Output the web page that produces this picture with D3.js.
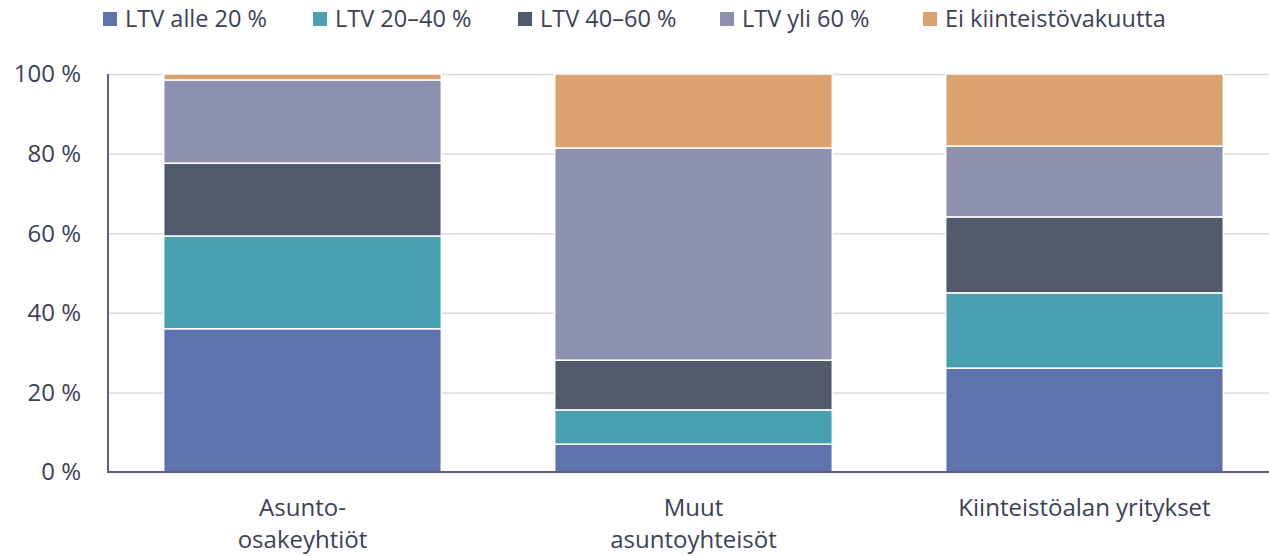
<!DOCTYPE html>
<html lang="fi">
<head>
    <meta charset="UTF-8">
    <title>LTV</title>
    <script src="https://d3js.org/d3.v7.min.js"></script>
    <style>
        body { margin: 0; background: #fff; }
        text { font-family: "Open Sans", sans-serif; fill: #3b4256; }
    </style>
</head>
<body>
<svg id="chart" width="1269" height="556"></svg>
<script>
    // kategoriat ja sarjat
    var categories = [["Asunto-", "osakeyhtiöt"], ["Muut", "asuntoyhteisöt"], ["Kiinteistöalan yritykset"]];
    var seriesNames = ["LTV alle 20 %", "LTV 20–40 %", "LTV 40–60 %", "LTV yli 60 %", "Ei kiinteistövakuutta"];
    var ltvUnder20 = [36.0, 7.0, 26.1];
    var ltv20to40 = [23.3, 8.6, 18.9];
    var ltv40to60 = [18.3, 12.5, 19.1];
    var ltvOver60 = [20.9, 53.3, 17.8];
    var noCollateral = [1.5, 18.6, 18.1];
    var yTicks = [0, 20, 40, 60, 80, 100];
    var colors = ["#5e72ae", "#48a0b0", "#505a6b", "#8e90b0", "#dca26d"];

    var svg = d3.select('#chart');
    var plotLeft = 108, plotRight = 1280, plotTop = 74, plotBottom = 472;

    var rows = categories.map(function (c, i) {
        return {
            key: i,
            s0: ltvUnder20[i], s1: ltv20to40[i], s2: ltv40to60[i], s3: ltvOver60[i], s4: noCollateral[i]
        };
    });
    var stack = d3.stack().keys(["s0", "s1", "s2", "s3", "s4"])(rows);

    var x = d3.scaleBand().domain(d3.range(categories.length)).range([plotLeft - 1, plotRight]).paddingInner(0.29).paddingOuter(0.145);
    var y = d3.scaleLinear().domain([0, 100]).range([plotBottom, plotTop]);

    // ruudukko
    svg.append('g')
        .attr('transform', 'translate(' + plotLeft + ',0)')
        .call(d3.axisLeft(y).tickValues(yTicks).tickSize(-(1269 - plotLeft)).tickFormat(''))
        .call(g => g.select('.domain').remove())
        .call(g => g.selectAll('line').attr('stroke', '#dcdcdc').attr('stroke-width', 1.5));

    svg.append('g').selectAll('g')
        .data(stack)
        .enter().append('g')
        .attr('fill', (d, i) => colors[i])
        .selectAll('rect')
        .data(d => d)
        .enter().append('rect')
        .attr('x', (d, i) => x(i))
        .attr('width', x.bandwidth())
        .attr('y', d => y(d[1]))
        .attr('height', d => y(d[0]) - y(d[1]))
        .attr('stroke', '#fff')
        .attr('stroke-width', 1.5);

    // akselit
    svg.append('line').attr('x1', plotLeft).attr('x2', plotLeft).attr('y1', plotTop).attr('y2', plotBottom + 1)
        .attr('stroke', '#5a6080').attr('stroke-width', 2);
    svg.append('line').attr('x1', plotLeft).attr('x2', 1269).attr('y1', plotBottom).attr('y2', plotBottom)
        .attr('stroke', '#5a6080').attr('stroke-width', 2);

    svg.append('g').selectAll('text')
        .data(yTicks)
        .enter().append('text')
        .attr('x', 81)
        .attr('y', d => y(d))
        .attr('dy', '0.35em')
        .attr('text-anchor', 'end')
        .style('font-size', '24px')
        .text(d => d + ' %');

    // kategorianimet
    svg.append('g').selectAll('text')
        .data(categories)
        .enter().append('text')
        .attr('text-anchor', 'middle')
        .style('font-size', '24px')
        .each(function (d, i) {
            d3.select(this).selectAll('tspan')
                .data(d)
                .enter().append('tspan')
                .attr('x', x(i) + x.bandwidth() / 2)
                .attr('y', (t, j) => 516 + j * 32)
                .text(t => t);
        });

    // selite
    var legendX = [103, 313, 518, 720, 923];
    var legend = svg.append('g').selectAll('g')
        .data(seriesNames)
        .enter().append('g')
        .attr('transform', (d, i) => 'translate(' + legendX[i] + ',0)');
    legend.append('rect').attr('x', 0).attr('y', 12).attr('width', 14).attr('height', 14)
        .attr('fill', (d, i) => colors[i]);
    legend.append('text').attr('x', 22).attr('y', 19).attr('dy', '0.35em')
        .style('font-size', '23.5px')
        .text(d => d);
</script>
</body>
</html>
